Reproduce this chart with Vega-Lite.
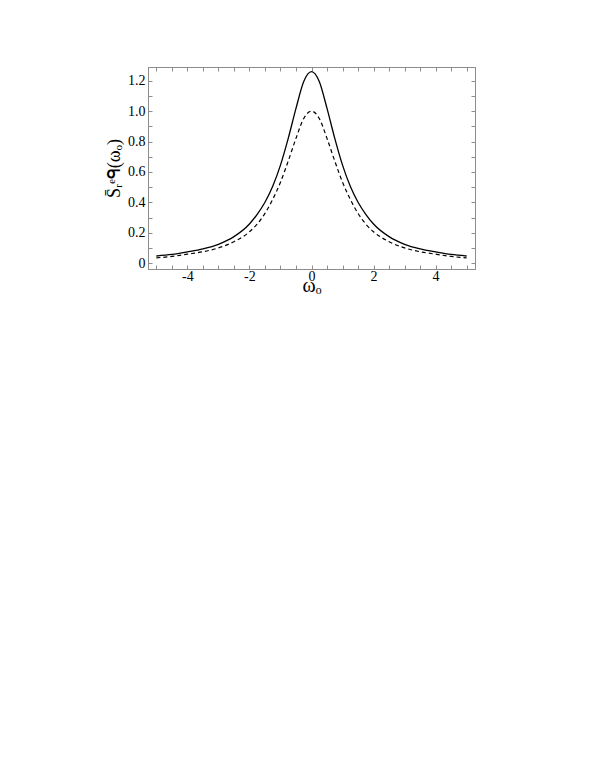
{
  "$schema": "https://vega.github.io/schema/vega-lite/v6.json",
  "autosize": "none",
  "width": 327,
  "height": 202,
  "padding": {"left": 148, "top": 67, "right": 124, "bottom": 507},
  "background": "white",
  "config": {
    "view": {"stroke": "#8c8c8c", "strokeWidth": 1},
    "font": "Liberation Serif",
    "axis": {
      "grid": false,
      "domainColor": "#8c8c8c",
      "tickColor": "#8c8c8c",
      "tickSize": -4,
      "labelFont": "Liberation Serif",
      "labelFontSize": 14,
      "labelColor": "black",
      "titleFont": "Liberation Serif",
      "titleFontWeight": "normal",
      "titleColor": "black"
    }
  },
  "data": {
    "values": [
      {"w": -5, "v": 0.048, "series": "solid"},
      {"w": -4.5, "v": 0.058, "series": "solid"},
      {"w": -4, "v": 0.075, "series": "solid"},
      {"w": -3.5, "v": 0.095, "series": "solid"},
      {"w": -3, "v": 0.125, "series": "solid"},
      {"w": -2.5, "v": 0.175, "series": "solid"},
      {"w": -2, "v": 0.258, "series": "solid"},
      {"w": -1.75, "v": 0.322, "series": "solid"},
      {"w": -1.5, "v": 0.401, "series": "solid"},
      {"w": -1.25, "v": 0.506, "series": "solid"},
      {"w": -1, "v": 0.645, "series": "solid"},
      {"w": -0.75, "v": 0.821, "series": "solid"},
      {"w": -0.5, "v": 1.018, "series": "solid"},
      {"w": -0.25, "v": 1.195, "series": "solid"},
      {"w": 0, "v": 1.26, "series": "solid"},
      {"w": 0.25, "v": 1.195, "series": "solid"},
      {"w": 0.5, "v": 1.018, "series": "solid"},
      {"w": 0.75, "v": 0.821, "series": "solid"},
      {"w": 1, "v": 0.645, "series": "solid"},
      {"w": 1.25, "v": 0.506, "series": "solid"},
      {"w": 1.5, "v": 0.401, "series": "solid"},
      {"w": 1.75, "v": 0.322, "series": "solid"},
      {"w": 2, "v": 0.258, "series": "solid"},
      {"w": 2.5, "v": 0.175, "series": "solid"},
      {"w": 3, "v": 0.125, "series": "solid"},
      {"w": 3.5, "v": 0.095, "series": "solid"},
      {"w": 4, "v": 0.075, "series": "solid"},
      {"w": 4.5, "v": 0.058, "series": "solid"},
      {"w": 5, "v": 0.048, "series": "solid"},
      {"w": -5, "v": 0.036, "series": "dashed"},
      {"w": -4.5, "v": 0.045, "series": "dashed"},
      {"w": -4, "v": 0.06, "series": "dashed"},
      {"w": -3.5, "v": 0.076, "series": "dashed"},
      {"w": -3, "v": 0.101, "series": "dashed"},
      {"w": -2.5, "v": 0.142, "series": "dashed"},
      {"w": -2, "v": 0.207, "series": "dashed"},
      {"w": -1.75, "v": 0.258, "series": "dashed"},
      {"w": -1.5, "v": 0.328, "series": "dashed"},
      {"w": -1.25, "v": 0.42, "series": "dashed"},
      {"w": -1, "v": 0.533, "series": "dashed"},
      {"w": -0.75, "v": 0.672, "series": "dashed"},
      {"w": -0.5, "v": 0.821, "series": "dashed"},
      {"w": -0.25, "v": 0.952, "series": "dashed"},
      {"w": 0, "v": 1.0, "series": "dashed"},
      {"w": 0.25, "v": 0.952, "series": "dashed"},
      {"w": 0.5, "v": 0.821, "series": "dashed"},
      {"w": 0.75, "v": 0.672, "series": "dashed"},
      {"w": 1, "v": 0.533, "series": "dashed"},
      {"w": 1.25, "v": 0.42, "series": "dashed"},
      {"w": 1.5, "v": 0.328, "series": "dashed"},
      {"w": 1.75, "v": 0.258, "series": "dashed"},
      {"w": 2, "v": 0.207, "series": "dashed"},
      {"w": 2.5, "v": 0.142, "series": "dashed"},
      {"w": 3, "v": 0.101, "series": "dashed"},
      {"w": 3.5, "v": 0.076, "series": "dashed"},
      {"w": 4, "v": 0.06, "series": "dashed"},
      {"w": 4.5, "v": 0.045, "series": "dashed"},
      {"w": 5, "v": 0.036, "series": "dashed"}
    ]
  },
  "layer": [
    {
      "transform": [{"filter": "datum.series === 'solid'"}],
      "mark": {"type": "line", "color": "black", "strokeWidth": 1.3, "interpolate": "monotone"},
      "encoding": {
        "x": {
          "field": "w", "type": "quantitative",
          "scale": {"domain": [-5.27, 5.27], "nice": false, "zero": false},
          "axis": {
            "orient": "bottom",
            "values": [-5, -4.5, -4, -3.5, -3, -2.5, -2, -1.5, -1, -0.5, 0, 0.5, 1, 1.5, 2, 2.5, 3, 3.5, 4, 4.5, 5],
            "labelExpr": "datum.value % 2 === 0 ? toString(datum.value) : ''",
            "labelPadding": 4,
            "title": "ωₒ",
            "titleFontSize": 20,
            "titleY": 22,
            "titleBaseline": "alphabetic"
          }
        },
        "y": {
          "field": "v", "type": "quantitative",
          "scale": {"domain": [-0.0375, 1.29], "nice": false, "zero": false},
          "axis": {
            "orient": "left",
            "values": [0, 0.1, 0.2, 0.3, 0.4, 0.5, 0.6, 0.7, 0.8, 0.9, 1.0, 1.1, 1.2],
            "labelExpr": "datum.value === 0 ? '0' : (round(datum.value * 10) % 2 === 0 ? format(datum.value, '.1f') : '')",
            "labelPadding": 7,
            "title": "S̄ᵣᵉᑫ(ωₒ)",
            "titleFontSize": 18,
            "titlePadding": 4
          }
        }
      }
    },
    {
      "transform": [{"filter": "datum.series === 'dashed'"}],
      "mark": {"type": "line", "color": "black", "strokeWidth": 1.2, "strokeDash": [4, 3], "interpolate": "monotone"},
      "encoding": {
        "x": {
          "field": "w", "type": "quantitative",
          "axis": {
            "orient": "top",
            "values": [-5, -4.5, -4, -3.5, -3, -2.5, -2, -1.5, -1, -0.5, 0, 0.5, 1, 1.5, 2, 2.5, 3, 3.5, 4, 4.5, 5],
            "labels": false,
            "title": null
          }
        },
        "y": {
          "field": "v", "type": "quantitative",
          "axis": {
            "orient": "right",
            "values": [0, 0.1, 0.2, 0.3, 0.4, 0.5, 0.6, 0.7, 0.8, 0.9, 1.0, 1.1, 1.2],
            "labels": false,
            "title": null
          }
        }
      }
    }
  ],
  "resolve": {"axis": {"x": "independent", "y": "independent"}}
}
